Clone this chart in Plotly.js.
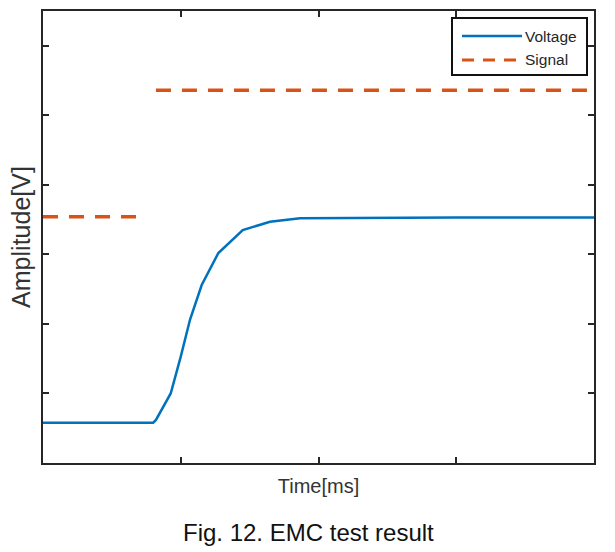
<!DOCTYPE html>
<html>
<head>
<meta charset="utf-8">
<script src="https://cdn.plot.ly/plotly-3.0.1.min.js"></script>
<style>html,body{margin:0;padding:0;background:#fff;}#chart{width:615px;height:552px;}</style>
</head>
<body>
<div id="chart"></div>
<script>
// ---- data ----
const voltageName = "Voltage";
const signalName = "Signal";
const timeV   = [0, 0.80, 0.82, 0.927, 1.0, 1.067, 1.152, 1.273, 1.45, 1.648, 1.866, 2.3, 3.0, 4.0];
const voltage = [0.58, 0.58, 0.62, 1.0, 1.53, 2.06, 2.56, 3.02, 3.35, 3.47, 3.52, 3.525, 3.53, 3.53];
const timeS   = [0, 0.70, 0.76, 0.82, 4.0];
const signal  = [3.54, 3.54, null, 5.36, 5.36];
const xTicks = [1, 2, 3];
const yTicks = [1, 2, 3, 4, 5, 6];
const xTitle = "Time[ms]";
const yTitle = "Amplitude[V]";
const caption = "Fig. 12. EMC test result";

const blue = "#0072BD", orange = "#D95319", axisCol = "#262626";
const traces = [
  {x: timeV, y: voltage, type: "scatter", mode: "lines", name: voltageName,
   line: {color: blue, width: 2.5}, showlegend: false},
  {x: timeS, y: signal, type: "scatter", mode: "lines", name: signalName, connectgaps: false,
   line: {color: orange, width: 3.5, dash: "15px,11px"}, showlegend: false}
];

// legend drawn in paper coordinates (plot area: x 43..594, y 11..463 px)
const L = 43, R = 594, T = 11, B = 463;
const px = v => (v - L) / (R - L);
const py = v => (B - v) / (B - T);

const shapes = [
  {type: "rect", xref: "paper", yref: "paper", x0: px(452), x1: px(587), y0: py(18), y1: py(75),
   line: {color: "#111", width: 2}, fillcolor: "white", layer: "above"},
  {type: "line", xref: "paper", yref: "paper", x0: px(462), x1: px(522), y0: py(36), y1: py(36),
   line: {color: blue, width: 2.5}, layer: "above"},
  {type: "line", xref: "paper", yref: "paper", x0: px(462), x1: px(522), y0: py(60), y1: py(60),
   line: {color: orange, width: 3, dash: "12px,9px"}, layer: "above"}
];

const annotations = [
  {xref: "paper", yref: "paper", x: px(523), y: py(36), xanchor: "left", yanchor: "middle",
   text: voltageName, showarrow: false, font: {family: "Liberation Sans, Arial, sans-serif", size: 15.5, color: axisCol}},
  {xref: "paper", yref: "paper", x: px(523), y: py(59), xanchor: "left", yanchor: "middle",
   text: signalName, showarrow: false, font: {family: "Liberation Sans, Arial, sans-serif", size: 15.5, color: axisCol}},
  {xref: "paper", yref: "paper", x: px(308), y: py(532), xanchor: "center", yanchor: "middle",
   text: caption, showarrow: false, font: {family: "Liberation Sans, Arial, sans-serif", size: 24, color: "#111"}}
];

const axisCommon = {
  showgrid: false, zeroline: false, showline: true, linecolor: axisCol, linewidth: 2,
  mirror: "ticks", ticks: "inside", ticklen: 6, tickwidth: 2, tickcolor: axisCol,
  showticklabels: false, tickmode: "array", fixedrange: true
};

const layout = {
  width: 615, height: 552,
  margin: {l: L, r: 615 - R, t: T, b: 552 - B, pad: 0},
  paper_bgcolor: "white", plot_bgcolor: "white",
  showlegend: false,
  xaxis: Object.assign({}, axisCommon, {range: [0, 4], tickvals: xTicks,
    title: {text: xTitle, standoff: 15, font: {family: "Liberation Sans, Arial, sans-serif", size: 20, color: "#333"}}}),
  yaxis: Object.assign({}, axisCommon, {range: [0, 6.5], tickvals: yTicks,
    title: {text: yTitle, standoff: 3, font: {family: "Liberation Sans, Arial, sans-serif", size: 25, color: "#333"}}}),
  shapes: shapes,
  annotations: annotations
};

Plotly.newPlot("chart", traces, layout, {displayModeBar: false, staticPlot: true});
</script>
</body>
</html>
